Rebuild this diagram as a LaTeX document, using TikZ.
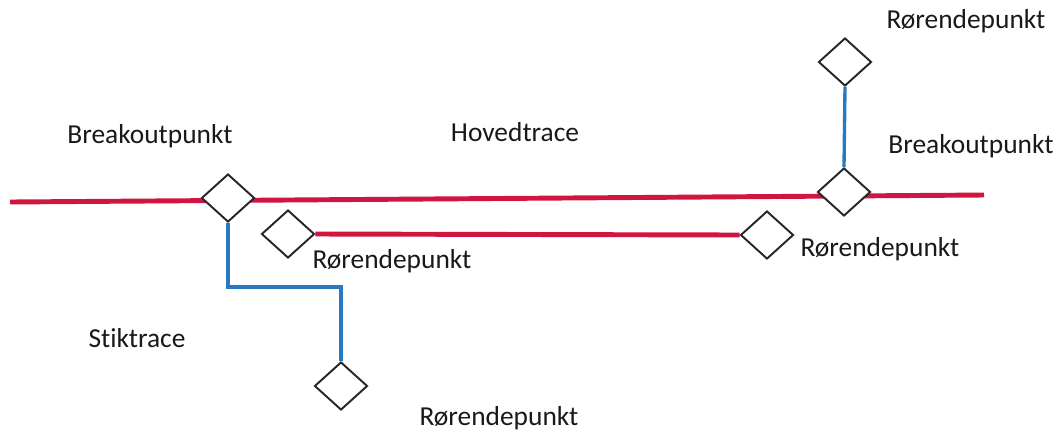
\documentclass[tikz,border=0pt]{standalone}
\usepackage{fontspec}
\setmainfont{Carlito}[Ligatures=NoCommon]
\usetikzlibrary{shapes.geometric}
\usetikzlibrary{backgrounds}

\definecolor{hovedred}{RGB}{208,22,64}
\definecolor{stikblue}{RGB}{38,122,192}

\tikzset{
 punkt/.style={shape=diamond,draw=black!85,fill=white,line width=1.1pt,
  inner sep=0pt,minimum width=1.06cm,minimum height=0.96cm},
 hoved/.style={hovedred,line width=2.8pt},
 stik/.style={stikblue,line width=1.9pt},
 lbl/.style={anchor=base,font=\fontsize{15.6}{17}\selectfont,text=black!90}
}

\begin{document}
\begin{tikzpicture}[x=0.02cm,y=-0.02cm]
 \useasboundingbox (0,0) rectangle (1059,437);
 \node[punkt] (bo1) at (228,198) {};
 \node[punkt] (bo2) at (844,192) {};
 \node[punkt] (re1) at (288,234) {};
 \node[punkt] (re2) at (767,235) {};
 \node[punkt] (re3) at (341,386) {};
 \node[punkt] (re4) at (845,62) {};
 \coordinate (hstart) at (10,202);
 \coordinate (hend) at (984,195);
 \begin{scope}[on background layer]
 \draw[hoved] (hstart) -- (hend);
 \draw[hoved] (re1.east) -- (re2.west);
 \draw[stik] (bo1.south) -- ++(0,64) -| (re3.north);
 \draw[stik] (bo2.north) -- (re4.south);
 \end{scope}
 \node[lbl] (t1) at (150,143) {Breakoutpunkt};
 \node[lbl] (t2) at (515,141) {Hovedtrace};
 \node[lbl] (t3) at (971,153) {Breakoutpunkt};
 \node[lbl] (t4) at (966,28) {Rørendepunkt};
 \node[lbl] (t5) at (392,268) {Rørendepunkt};
 \node[lbl] (t6) at (880,256) {Rørendepunkt};
 \node[lbl] (t7) at (137,347) {Stiktrace};
 \node[lbl] (t8) at (499,425) {Rørendepunkt};
\end{tikzpicture}
\end{document}
